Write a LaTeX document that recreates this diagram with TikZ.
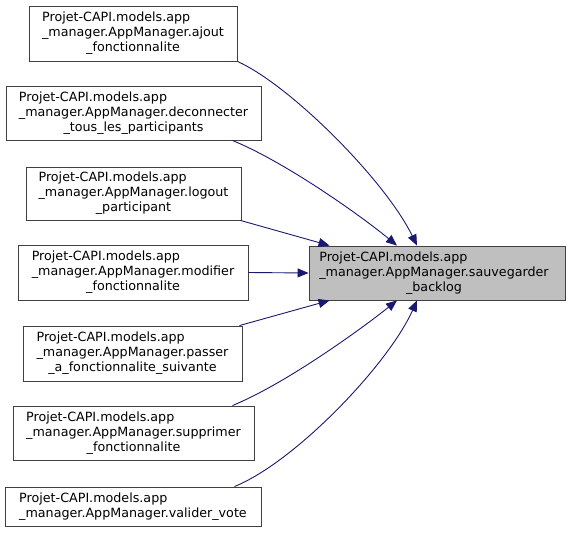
\documentclass[tikz,border=0pt]{standalone}
\usepackage{fontspec}
\setmainfont{DejaVu Sans}
\usetikzlibrary{arrows.meta,calc}
\definecolor{edgeblue}{RGB}{25,25,112}
\definecolor{nodegray}{RGB}{191,191,191}
\newcommand{\tlab}[3]{\begin{tabular}{@{}l@{}}#1\\#2\\\multicolumn{1}{@{}c@{}}{#3}\end{tabular}}
\newcommand{\dlab}[2]{\begin{tabular}{@{}l@{}}#1\\#2\end{tabular}}
\begin{document}
\begin{tikzpicture}[x=1pt,y=-1pt,
  fnbox/.style={draw=black!75,line width=0.9pt,fill=white,inner sep=0pt,
    font=\fontsize{12.7}{15}\selectfont},
  callarrow/.style={draw=edgeblue,line width=0.9pt,
    -{Triangle[length=11pt,width=9pt,fill=edgeblue]}}]
\useasboundingbox (0,0) rectangle (571,533);
\node[fnbox,minimum width=208pt,minimum height=55pt] (n1) at (133,33.5)
  {\tlab{Projet-CAPI.models.app}{\_manager.AppManager.ajout}{\_fonctionnalite}};
\node[fnbox,minimum width=255pt,minimum height=54pt] (n2) at (133.5,113)
  {\tlab{Projet-CAPI.models.app}{\_manager.AppManager.deconnecter}{\_tous\_les\_participants}};
\node[fnbox,minimum width=215pt,minimum height=53pt] (n3) at (133.5,193.5)
  {\tlab{Projet-CAPI.models.app}{\_manager.AppManager.logout}{\_participant}};
\node[fnbox,minimum width=230pt,minimum height=55pt] (n4) at (133,272.5)
  {\tlab{Projet-CAPI.models.app}{\_manager.AppManager.modifier}{\_fonctionnalite}};
\node[fnbox,minimum width=219pt,minimum height=55pt] (n5) at (132.5,353.5)
  {\tlab{Projet-CAPI.models.app}{\_manager.AppManager.passer}{\_a\_fonctionnalite\_suivante}};
\node[fnbox,minimum width=241pt,minimum height=54pt] (n6) at (133.5,433)
  {\tlab{Projet-CAPI.models.app}{\_manager.AppManager.supprimer}{\_fonctionnalite}};
\node[fnbox,minimum width=256pt,minimum height=39pt] (n7) at (133,506.5)
  {\dlab{Projet-CAPI.models.app}{\_manager.AppManager.valider\_vote}};
\node[fnbox,fill=nodegray,minimum width=256pt,minimum height=54pt] (t) at (437,273)
  {\hspace*{-6pt}\tlab{Projet-CAPI.models.app}{\_manager.AppManager.sauvegarder}{\_backlog}};
\draw[callarrow] (n1.south east) .. controls (290,85) and (385,180) .. ($(t.north)+(-20,0)$);
\draw[callarrow] ($(n2.south east)+(-29,0)$) .. controls (285,162) and (360,215) .. ($(t.north)+(-40,0)$);
\draw[callarrow] ($(n3.south east)+(-1,0)$) -- ($(t.north west)+(21,0)$);
\draw[callarrow] (n4.east) -- (t.west);
\draw[callarrow] ($(n5.north east)+(-3,0)$) -- ($(t.south west)+(21,0)$);
\draw[callarrow] ($(n6.north east)+(-22,0)$) .. controls (285,384) and (360,330) .. ($(t.south)+(-40,0)$);
\draw[callarrow] ($(n7.north east)+(-27,0)$) .. controls (295,462) and (388,365) .. ($(t.south)+(-20,0)$);
\end{tikzpicture}
\end{document}
